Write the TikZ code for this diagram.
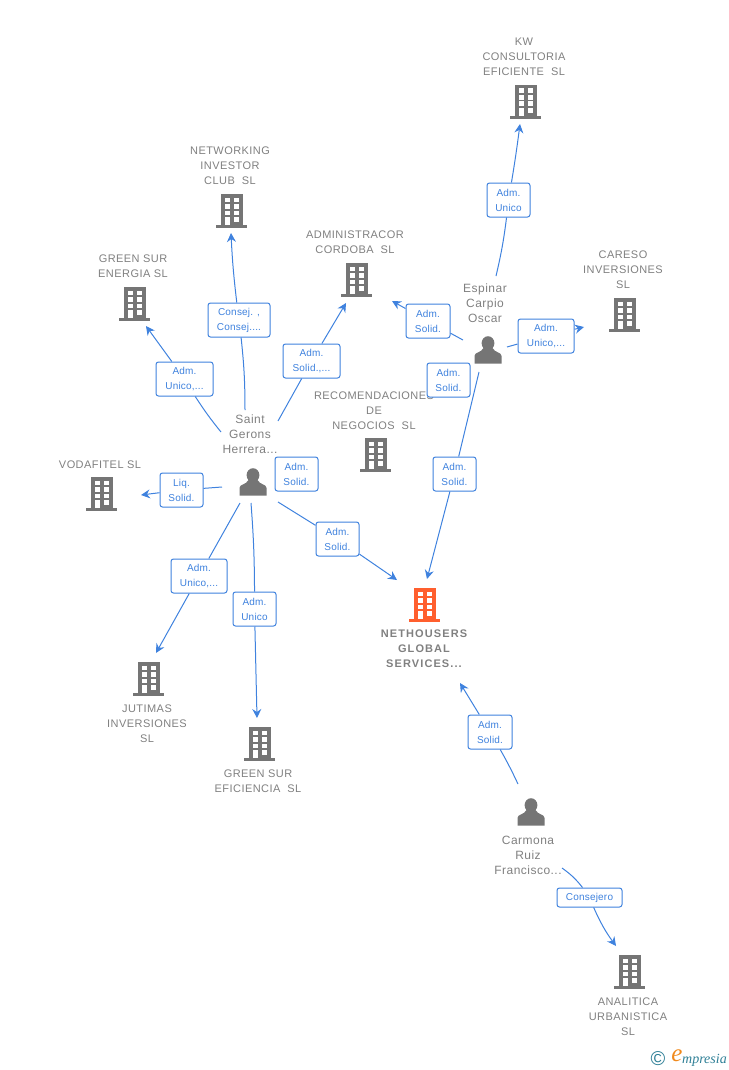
\documentclass[tikz,border=0pt]{standalone}
\usepackage{fontspec}
\setmainfont{Liberation Sans}
\newfontfamily\labelfont[LetterSpace=4]{Liberation Sans}
\newfontfamily\mainlabelfont[LetterSpace=10]{Liberation Sans}
\newfontfamily\rolefont[LetterSpace=2]{Liberation Sans}
\newfontfamily\logofont{Liberation Serif}
\usetikzlibrary{arrows.meta}
\definecolor{edgeblue}{HTML}{3F82DE}
\definecolor{icongray}{HTML}{757575}
\definecolor{textgray}{HTML}{808080}
\definecolor{mainorange}{HTML}{FF5F2E}
\definecolor{logoteal}{HTML}{2E7F96}
\definecolor{logoorange}{HTML}{F08A1D}
\tikzset{
	firm/.style={text=textgray,align=center,font=\fontsize{11}{15}\selectfont\labelfont},
	mainfirm/.style={text=textgray,align=center,font=\fontsize{11}{15}\selectfont\mainlabelfont\bfseries},
	person/.style={text=textgray,align=center,font=\fontsize{12}{15}\selectfont\labelfont},
	role/.style={draw=edgeblue,fill=white,rounded corners=2.5pt,line width=1pt,text=edgeblue,align=center,inner sep=0pt,minimum height=34pt,font=\fontsize{10}{15}\selectfont\rolefont},
	link/.style={draw=edgeblue,line width=1pt},
	linkto/.style={draw=edgeblue,line width=1pt,-{Stealth[length=9pt,width=9pt,inset=3pt]}},
	pics/bldg/.style={code={
		\fill[#1] (-11,-17) rectangle (11,14);
		\fill[#1] (-16,14) rectangle (15,17);
		\foreach \yy in {-13.5,-7,-0.5,6} {
			\fill[white] (-7.5,\yy) rectangle (-2.5,\yy+4.7);
			\fill[white] (2,\yy) rectangle (7.2,\yy+4.7);
		}
		\fill[white] (-7.5,6) rectangle (-2.5,14);
	}},
	pics/man/.style={code={
		\fill[icongray] (0,-6.8) circle[x radius=6.4,y radius=7];
		\fill[icongray] (-13.5,13.7) -- (-13.5,6) .. controls (-13.5,2) and (-7,3) .. (-4.5,-2) -- (4.5,-2) .. controls (7,3) and (13.5,2) .. (13.5,6) -- (13.5,13.7) -- cycle;
	}}
}
\begin{document}
\begin{tikzpicture}[x=1pt,y=-1pt]
	
	\useasboundingbox (0,0) rectangle (728,1070);
	
	% firms
	\pic at (526,102) {bldg=icongray};
	\pic at (232,211) {bldg=icongray};
	\pic at (357,280) {bldg=icongray};
	\pic at (135,304) {bldg=icongray};
	\pic at (625,315) {bldg=icongray};
	\pic at (376,455) {bldg=icongray};
	\pic at (102,494) {bldg=icongray};
	\pic at (425,605) {bldg=mainorange};
	\pic at (149,679) {bldg=icongray};
	\pic at (260,744) {bldg=icongray};
	\pic at (630,972) {bldg=icongray};
	
	\node[firm] (kw) at (524,56.5) {KW\\CONSULTORIA\\EFICIENTE\ \ SL};
	\node[firm] (networking) at (230,165.5) {NETWORKING\\INVESTOR\\CLUB\ \ SL};
	\node[firm] (administracor) at (355,242.5) {ADMINISTRACOR\\CORDOBA\ \ SL};
	\node[firm] (energia) at (133,266.5) {GREEN SUR\\ENERGIA SL};
	\node[firm] (careso) at (623,269.5) {CARESO\\INVERSIONES\\SL};
	\node[firm] (recomendaciones) at (374,410.5) {RECOMENDACIONES\\DE\\NEGOCIOS\ \ SL};
	\node[firm] (vodafitel) at (100,464.5) {VODAFITEL SL};
	\node[mainfirm] (nethousers) at (424,649) {NETHOUSERS\\GLOBAL\\SERVICES...};
	\node[firm] (jutimas) at (147,723.5) {JUTIMAS\\INVERSIONES\\SL};
	\node[firm] (eficiencia) at (258,781.5) {GREEN SUR\\EFICIENCIA\ \ SL};
	\node[firm] (analitica) at (628,1016.5) {ANALITICA\\URBANISTICA\\SL};
	
	% people
	\pic at (488,350) {man};
	\pic at (253,482) {man};
	\pic at (531,812) {man};
	
	\node[person] (espinar) at (485,303) {Espinar\\Carpio\\Oscar};
	\node[person] (saint) at (250,434) {Saint\\Gerons\\Herrera...};
	\node[person] (carmona) at (528,855) {Carmona\\Ruiz\\Francisco...};
	
	% free ends of the links
	\coordinate (kwend) at (520,124);
	\coordinate (kwstart) at (496,276);
	\coordinate (netend) at (231,233);
	\coordinate (netstart) at (245,410);
	\coordinate (eneend) at (146,326);
	\coordinate (enestart) at (221,432);
	\coordinate (admend) at (346,303);
	\coordinate (admstart) at (278,421);
	\coordinate (esaend) at (392,301);
	\coordinate (esastart) at (463,340);
	\coordinate (carend) at (584,327);
	\coordinate (carstart) at (507,347);
	\coordinate (esnend) at (427,579);
	\coordinate (esnstart) at (479,372);
	\coordinate (sanend) at (397,580);
	\coordinate (sanstart) at (278,502);
	\coordinate (vodend) at (141,495);
	\coordinate (vodstart) at (222,487);
	\coordinate (jutend) at (156,653);
	\coordinate (jutstart) at (240,503);
	\coordinate (efiend) at (257,718);
	\coordinate (efistart) at (251,503);
	\coordinate (canend) at (460,683);
	\coordinate (canstart) at (518,784);
	\coordinate (anaend) at (616,946);
	\coordinate (anastart) at (562,868);
	
	% role boxes
	\node[role,minimum width=43pt] (rkw) at (508.5,200) {Adm.\\Unico};
	\node[role,minimum width=62pt] (rnet) at (239,320) {Consej. ,\\Consej....};
	\node[role,minimum width=57pt] (rene) at (184.5,379) {Adm.\\Unico,...};
	\node[role,minimum width=57pt] (radm) at (311.5,361) {Adm.\\Solid.,...};
	\node[role,minimum width=44pt] (resa) at (428,321) {Adm.\\Solid.};
	\node[role,minimum width=56pt] (rcar) at (546,336) {Adm.\\Unico,...};
	\node[role,minimum width=43pt] (rrec) at (448.5,380) {Adm.\\Solid.};
	\node[role,minimum width=43pt] (resn) at (454.5,474) {Adm.\\Solid.};
	\node[role,minimum width=43pt] (rsai) at (296.5,474) {Adm.\\Solid.};
	\node[role,minimum width=43pt] (rsan) at (337.5,539) {Adm.\\Solid.};
	\node[role,minimum width=43pt] (rvod) at (181.5,490) {Liq.\\Solid.};
	\node[role,minimum width=56pt] (rjut) at (199,576) {Adm.\\Unico,...};
	\node[role,minimum width=43pt] (refi) at (254.5,609) {Adm.\\Unico};
	\node[role,minimum width=44pt] (rcan) at (490,732) {Adm.\\Solid.};
	\node[role,minimum width=65pt,minimum height=19pt] (rana) at (589.5,897.5) {Consejero};
	
	% links
	\draw[link] (kwstart) to[bend right=3] (rkw);
	\draw[linkto] (rkw) to[bend right=1] (kwend);
	\draw[link] (netstart) to[bend right=3] (rnet);
	\draw[linkto] (rnet) to[bend left=2] (netend);
	\draw[link] (enestart) to[bend left=3] (rene);
	\draw[linkto] (rene) -- (eneend);
	\draw[link] (admstart) -- (radm);
	\draw[linkto] (radm) -- (admend);
	\draw[link] (esastart) -- (resa);
	\draw[linkto] (resa) -- (esaend);
	\draw[link] (carstart) -- (rcar);
	\draw[linkto] (rcar) -- (carend);
	\draw[link] (esnstart) -- (resn);
	\draw[linkto] (resn) -- (esnend);
	\draw[link] (sanstart) -- (rsan);
	\draw[linkto] (rsan) -- (sanend);
	\draw[link] (vodstart) -- (rvod);
	\draw[linkto] (rvod) -- (vodend);
	\draw[link] (jutstart) -- (rjut);
	\draw[linkto] (rjut) -- (jutend);
	\draw[link] (efistart) to[bend left=2] (refi);
	\draw[linkto] (refi) -- (efiend);
	\draw[link] (canstart) to[bend right=2] (rcan);
	\draw[linkto] (rcan) -- (canend);
	\draw[link] (anastart) to[bend left=8] (rana);
	\draw[linkto] (rana) to[bend right=6] (anaend);
	
	% logo
	\node[text=logoteal,inner sep=0pt,font=\fontsize{20}{20}\selectfont] (logoc) at (658,1059) {©};
	\node[text=logoorange,inner sep=0pt,font=\fontsize{25}{25}\selectfont\logofont\itshape] (logoe) at (677,1056) {e};
	\node[text=logoteal,anchor=west,inner sep=0pt,font=\fontsize{14}{14}\selectfont\logofont\itshape] (logotext) at (682,1060) {mpresia};
	
	\end{tikzpicture}
\end{document}
